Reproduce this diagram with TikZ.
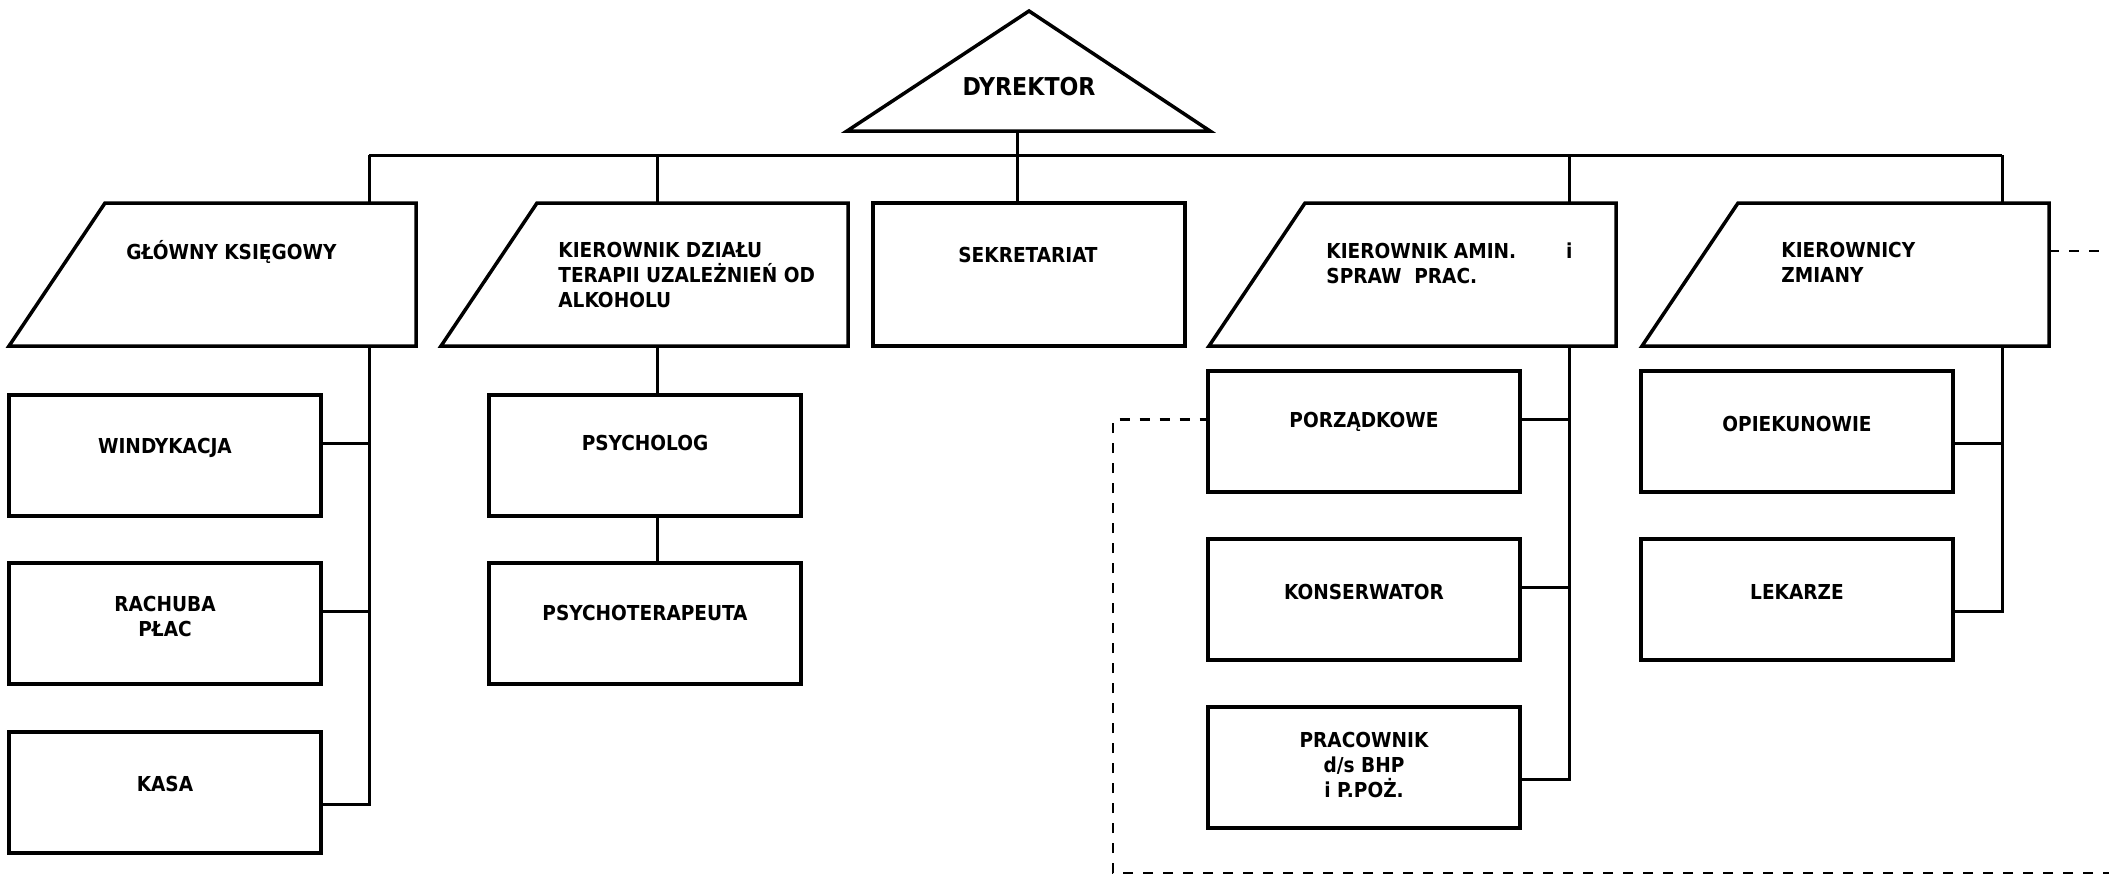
\documentclass[tikz,border=0pt]{standalone}
\usepackage{fontspec}
\setmainfont{DejaVu Sans Condensed}
\usetikzlibrary{positioning}

\begin{document}
\begin{tikzpicture}[
            x = 0.5pt, y = -0.5pt, % one unit = one pixel of the chart
            line join = miter,
            font = \fontsize{10.3}{12.5}\selectfont\bfseries
            ]

        \tikzstyle{box}=[
            draw,
            line width = 1.75pt,
            minimum width = 156pt,
            minimum height = 60.5pt,
            inner sep = 0pt,
            outer sep = 0pt
        ]
        \tikzstyle{head}=[
            minimum width = 155.5pt,
            minimum height = 71.5pt,
            inner sep = 0pt,
            outer sep = 0pt
        ]
        \tikzstyle{txt}=[inner sep = 0pt, align = center]
        \tikzstyle{link}=[line width = 1.5pt]
        \tikzstyle{dashlink}=[line width = 1.2pt, dash pattern = on 5pt off 5pt]

  \useasboundingbox (0,0) rectangle (2109,875);

	% director
	\draw[line width = 1.75pt] (1029,11) -- (1210,131) -- (847,131) -- cycle;
	\node[txt, font = \fontsize{12.3}{14}\selectfont\bfseries] (dyr) at (1029,87) {DYREKTOR};
	\coordinate (dyrbase) at (1017,131);

	% bus
	\coordinate (b1) at (369,155);
	\coordinate (b2) at (657,155);
	\coordinate (b4) at (1569,155);
	\coordinate (b5) at (2002,155);

	% first level
	\node[head, anchor = north east] (glow) at (416,203) {};
	\node[head, anchor = north east] (dzial) at (848,203) {};
	\node[box, anchor = north west, minimum height = 71.5pt] (sekr) at (873,203) {};
	\node[head, anchor = north east] (amin) at (1616,203) {};
	\node[head, anchor = north east] (zmia) at (2049,203) {};
	% slanted left side
	\foreach \h in {glow, dzial, amin, zmia}
	    \draw[line width = 1.75pt] (\h.north west) -- (\h.north east) -- (\h.south east)
	        -- ([xshift = -48pt]\h.south west) -- cycle;

	\node[txt, anchor = west] (glowt) at (126,252) {GŁÓWNY KSIĘGOWY};
	\node[txt, anchor = north west, align = left] (dzialt) at (558,242) {KIEROWNIK DZIAŁU\\TERAPII UZALEŻNIEŃ OD\\ALKOHOLU};
	\node[txt] (sekrt) at (1028,255) {SEKRETARIAT};
	\node[txt, anchor = north west, align = left] (amint) at (1326,242) {KIEROWNIK AMIN.\hspace{25pt}i\\SPRAW\ \ PRAC.};
	\node[txt, anchor = north west, align = left] (zmiat) at (1781,242) {KIEROWNICY\\ZMIANY};

	\draw[link] (dyrbase) -- (sekr.north -| dyrbase);
	\draw[link] (b1) -- (b5);
	\draw[link] (b1) -- (b1 |- glow.north);
	\draw[link] (b2) -- (b2 |- dzial.north);
	\draw[link] (b4) -- (b4 |- amin.north);
	\draw[link] (b5) -- (b5 |- zmia.north);

	% second level
	\node[box, anchor = north west] (wind) at (9,395) {};
	\node[box, below = 23.5pt of wind] (rach) {};
	\node[box, below = 24pt of rach] (kasa) {};
	\node[box, anchor = north west] (psyl) at (489,395) {};
	\node[box, below = 23.5pt of psyl] (psyt) {};
	\node[box, anchor = north west] (porz) at (1208,371) {};
	\node[box, below = 23.5pt of porz] (kons) {};
	\node[box, below = 23.5pt of kons] (prac) {};
	\node[box, anchor = north west] (opie) at (1641,371) {};
	\node[box, below = 23.5pt of opie] (leka) {};

	\node[txt] (windt) at (165,448) {WINDYKACJA};
	\node[txt] (racht) at (165,616) {RACHUBA\\PŁAC};
	\node[txt] (kasat) at (165,784) {KASA};
	\node[txt] (psylt) at (645,443) {PSYCHOLOG};
	\node[txt] (psytt) at (645,613) {PSYCHOTERAPEUTA};
	\node[txt] (porzt) at (1364,422) {PORZĄDKOWE};
	\node[txt] (konst) at (1364,592) {KONSERWATOR};
	\node[txt] (pract) at (1364,765) {PRACOWNIK\\d/s BHP\\i P.POŻ.};
	\node[txt] (opiet) at (1797,424) {OPIEKUNOWIE};
	\node[txt] (lekat) at (1797,592) {LEKARZE};

	\draw[link] ([yshift = 6pt]wind.east) -| (b1 |- glow.south);
	\draw[link] ([yshift = 6pt]rach.east) -| (b1 |- glow.south);
	\draw[link] ([yshift = -6pt]kasa.east) -| (b1 |- glow.south);
	\draw[link] (b2 |- dzial.south) -- (b2 |- psyl.north);
	\draw[link] (b2 |- psyl.south) -- (b2 |- psyt.north);
	\draw[link] ([yshift = 6pt]porz.east) -| (b4 |- amin.south);
	\draw[link] ([yshift = 6pt]kons.east) -| (b4 |- amin.south);
	\draw[link] ([yshift = -6pt]prac.east) -| (b4 |- amin.south);
	\draw[link] ([yshift = -6pt]opie.east) -| (b5 |- zmia.south);
	\draw[link] ([yshift = -6pt]leka.east) -| (b5 |- zmia.south);

	% dashed loop
	\coordinate (ne) at (2150,251);
	\coordinate (se) at (2150,873);
	\coordinate (sw) at (1113,873);
	\draw[dashlink] ([yshift = 11.75pt]zmia.east) -- (ne) -- (se) -- (sw) |- ([yshift = 6pt]porz.west);

\end{tikzpicture}
\end{document}
